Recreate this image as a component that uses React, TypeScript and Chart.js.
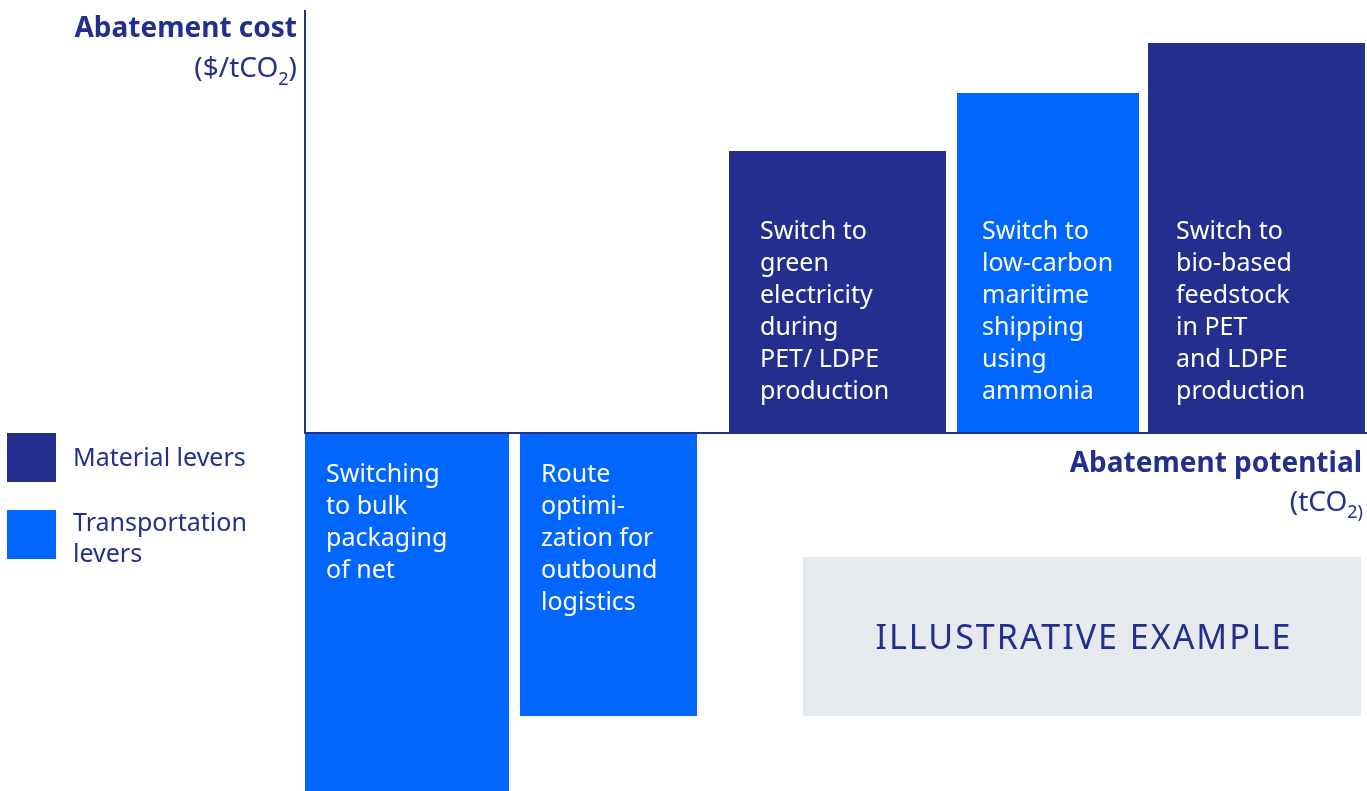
import React, { useEffect, useRef } from "react";
import { Chart, registerables } from "chart.js";

Chart.register(...registerables);

// ---- data ----
const leverLabels: string[][] = [
  ["Switching", "to bulk", "packaging", "of net"],
  ["Route", "optimi-", "zation for", "outbound", "logistics"],
  ["Switch to", "green", "electricity", "during", "PET/ LDPE", "production"],
  ["Switch to", "low-carbon", "maritime", "shipping", "using", "ammonia"],
  ["Switch to", "bio-based", "feedstock", "in PET", "and LDPE", "production"],
];
const potentialStart = [0.1, 21.6, 42.5, 65.3, 84.4];
const potentialWidth = [20.4, 17.7, 21.7, 18.2, 21.7];
const abatementCost = [-36.0, -28.3, 28.2, 34.0, 39.0];
const leverType = ["Transportation", "Transportation", "Material", "Transportation", "Material"];
const legendItems = [
  { type: "Material", lines: ["Material levers"] },
  { type: "Transportation", lines: ["Transportation", "levers"] },
];

// ---- styles ----
const NAVY = "#222F8E";
const BLUE = "#0066FF";
const GREY = "#E6E9EE";
const FONT = "'Noto Sans', sans-serif";
const typeColor: Record<string, string> = { Material: NAVY, Transportation: BLUE };
const labelPadX = [21, 21, 31, 25, 28];
const illustrativeBox = { x0: 49.9, x1: 105.7, y0: -12.4, y1: -28.3 };

const decorPlugin = {
  id: "decor",
  afterDraw(chart: any) {
    const ctx: CanvasRenderingContext2D = chart.ctx;
    const xs = chart.scales.x;
    const ys = chart.scales.y;
    const area = chart.chartArea;
    const y0 = ys.getPixelForValue(0);
    ctx.save();

    // bar labels
    ctx.fillStyle = "#FFFFFF";
    ctx.font = `25px ${FONT}`;
    ctx.textBaseline = "middle";
    ctx.textAlign = "left";
    const lh = 32;
    leverLabels.forEach((lines, i) => {
      const left = xs.getPixelForValue(potentialStart[i]) + labelPadX[i];
      if (abatementCost[i] >= 0) {
        const lastY = y0 - 41;
        lines.forEach((t, k) => {
          ctx.fillText(t, left, lastY - (lines.length - 1 - k) * lh);
        });
      } else {
        const firstY = y0 + 42;
        lines.forEach((t, k) => ctx.fillText(t, left, firstY + k * lh));
      }
    });

    // axes lines
    ctx.strokeStyle = NAVY;
    ctx.lineWidth = 2;
    ctx.beginPath();
    ctx.moveTo(area.left + 1, area.top);
    ctx.lineTo(area.left + 1, y0);
    ctx.moveTo(area.left, y0);
    ctx.lineTo(area.right, y0);
    ctx.stroke();

    // illustrative box
    const bx0 = xs.getPixelForValue(illustrativeBox.x0);
    const bx1 = xs.getPixelForValue(illustrativeBox.x1);
    const by0 = ys.getPixelForValue(illustrativeBox.y0);
    const by1 = ys.getPixelForValue(illustrativeBox.y1);
    ctx.fillStyle = GREY;
    ctx.fillRect(bx0, by0, bx1 - bx0, by1 - by0);
    ctx.fillStyle = NAVY;
    ctx.font = `34px ${FONT}`;
    (ctx as any).letterSpacing = "2px";
    ctx.textAlign = "center";
    ctx.fillText("ILLUSTRATIVE EXAMPLE", (bx0 + bx1) / 2 + 2, (by0 + by1) / 2 + 3);
    (ctx as any).letterSpacing = "0px";

    // axis titles
    ctx.fillStyle = NAVY;
    ctx.textAlign = "right";
    ctx.font = `bold 28px ${FONT}`;
    ctx.fillText("Abatement cost", 297, 29);
    ctx.fillText("Abatement potential", 1362, 464);

    // "($/tCO2)" : subscript 2 then normal ")"
    {
      ctx.font = `28px ${FONT}`;
      const wp = ctx.measureText(")").width;
      ctx.textAlign = "right";
      ctx.fillText(")", 297, 69);
      ctx.font = `18px ${FONT}`;
      const w2 = ctx.measureText("2").width;
      ctx.fillText("2", 297 - wp, 80);
      ctx.font = `28px ${FONT}`;
      ctx.fillText("($/tCO", 297 - wp - w2, 69);
    }
    // "(tCO2)" with subscript "2)"
    {
      ctx.font = `18px ${FONT}`;
      const ws = ctx.measureText("2)").width;
      ctx.textAlign = "right";
      ctx.fillText("2)", 1363, 513);
      ctx.font = `28px ${FONT}`;
      ctx.fillText("(tCO", 1363 - ws, 503);
    }

    // legend
    ctx.textAlign = "left";
    ctx.font = `25px ${FONT}`;
    const legendTops = [433, 510];
    legendItems.forEach((item, i) => {
      ctx.fillStyle = typeColor[item.type];
      ctx.fillRect(7, legendTops[i], 49, 49);
      ctx.fillStyle = NAVY;
      const firstY = item.lines.length === 1 ? legendTops[i] + 26 : legendTops[i] + 14;
      item.lines.forEach((t, k) => ctx.fillText(t, 73, firstY + k * 31));
    });

    ctx.restore();
  },
};

export default function App() {
  const ref = useRef<HTMLCanvasElement | null>(null);
  useEffect(() => {
    document.body.style.margin = "0";
    if (!ref.current) return;
    const datasets = potentialStart.map((s, i) => {
      const e = s + potentialWidth[i];
      const c = abatementCost[i];
      return {
        label: leverLabels[i].join(" "),
        data: [
          { x: s, y: 0 },
          { x: s, y: c },
          { x: e, y: c },
          { x: e, y: 0 },
        ],
        backgroundColor: typeColor[leverType[i]],
        borderColor: "rgba(0,0,0,0)",
        borderWidth: 0,
        pointRadius: 0,
        tension: 0,
        fill: "origin",
      };
    });
    const chart = new Chart(ref.current, {
      type: "line",
      data: { datasets } as any,
      options: {
        responsive: false,
        animation: false,
        layout: { padding: { left: 304, top: 10, right: 0, bottom: 0 } },
        plugins: { legend: { display: false }, tooltip: { enabled: false } },
        events: [],
        scales: {
          x: { type: "linear", min: 0, max: 106.3, display: false },
          y: { type: "linear", min: -35.8, max: 42.3, display: false },
        },
      },
      plugins: [decorPlugin],
    });
    return () => chart.destroy();
  }, []);
  return (
    <canvas ref={ref} width={1367} height={791} style={{ display: "block" }} />
  );
}
